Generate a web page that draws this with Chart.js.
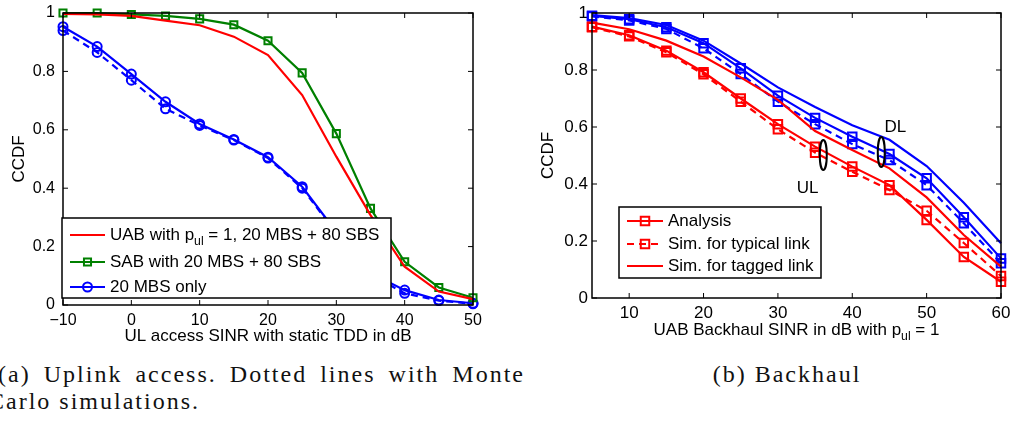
<!DOCTYPE html>
<html>
<head>
<meta charset="utf-8">
<script src="https://cdn.jsdelivr.net/npm/chart.js@4.4.1/dist/chart.umd.min.js"></script>
<style>
  body { margin: 0; background: #fff; width: 1011px; height: 421px; overflow: hidden; position: relative; }
  canvas { position: absolute; top: 0; }
  #chartA { left: 0; }
  #chartB { left: 520px; }
  .cap { position: absolute; font-family: 'Liberation Serif', 'DejaVu Serif', serif; font-size: 24px; letter-spacing: 2px; line-height: 27px; color: #111; white-space: nowrap; }
  #capA1 { left: -2px; top: 361px; width: 527px; text-align: justify; text-align-last: justify; white-space: normal; }
  #capA2 { left: -12px; top: 388px; }
  #capB { left: 687px; top: 361px; width: 200px; text-align: center; }
</style>
</head>
<body>
<canvas id="chartA" width="505" height="350"></canvas>
<canvas id="chartB" width="491" height="350"></canvas>
<div class="cap" id="capA1">(a) Uplink access. Dotted lines with Monte</div>
<div class="cap" id="capA2">Carlo simulations.</div>
<div class="cap" id="capB">(b) Backhaul</div>

<script>
// (a) uplink access
const sinrA = [-10, -5, 0, 5, 10, 15, 20, 25, 30, 35, 40, 45, 50];
const uabA = [0.997, 0.995, 0.99, 0.974, 0.958, 0.919, 0.856, 0.719, 0.508, 0.308, 0.131, 0.046, 0.02];
const sabA = [1.0, 1.0, 0.995, 0.99, 0.98, 0.96, 0.905, 0.795, 0.587, 0.331, 0.148, 0.06, 0.025];
const mbsA = [0.953, 0.885, 0.791, 0.696, 0.62, 0.567, 0.506, 0.405, 0.25, 0.11, 0.051, 0.017, 0.006];
const mbsSimA = [0.94, 0.865, 0.77, 0.672, 0.615, 0.565, 0.503, 0.4, 0.245, 0.105, 0.04, 0.015, 0.004];
const xTicksA = [-10, 0, 10, 20, 30, 40, 50];

// (b) backhaul
const sinrB = [5, 10, 15, 20, 25, 30, 35, 40, 45, 50, 55, 60];
const dlAnalysis = [0.99, 0.978, 0.95, 0.894, 0.806, 0.71, 0.632, 0.566, 0.505, 0.42, 0.283, 0.139];
const dlTypical = [0.988, 0.974, 0.944, 0.876, 0.786, 0.689, 0.61, 0.54, 0.484, 0.396, 0.262, 0.122];
const dlTagged = [0.993, 0.982, 0.958, 0.903, 0.823, 0.739, 0.67, 0.606, 0.555, 0.463, 0.334, 0.192];
const ulAnalysis = [0.952, 0.922, 0.868, 0.792, 0.7, 0.61, 0.531, 0.461, 0.396, 0.274, 0.144, 0.057];
const ulTypical = [0.95, 0.918, 0.862, 0.785, 0.689, 0.592, 0.51, 0.443, 0.379, 0.306, 0.193, 0.077];
const ulTagged = [0.966, 0.943, 0.903, 0.847, 0.774, 0.695, 0.586, 0.519, 0.455, 0.353, 0.221, 0.11];
const xTicksB = [10, 20, 30, 40, 50, 60];

const yTicks = [0, 0.2, 0.4, 0.6, 0.8, 1];

(function () {
    'use strict';

    const RED = '#ff0000', GREEN = '#008000', BLUE = '#0000ff';
    const SANS = "'Liberation Sans', Arial, sans-serif";
    const NONE = 'rgba(0,0,0,0)';

    function pts(xs, ys) {
        return xs.map(function (x, i) { return { x: x, y: ys[i] }; });
    }

    // text with a subscript part: parts = [[text, isSub], ...]
    function richWidth(ctx, parts, size) {
        let w = 0;
        parts.forEach(function (p) {
            ctx.font = (p[1] ? size * 0.72 : size) + 'px ' + SANS;
            w += ctx.measureText(p[0]).width;
        });
        return w;
    }
    function drawRich(ctx, parts, x, y, size, align) {
        if (align === 'center') x -= richWidth(ctx, parts, size) / 2;
        ctx.textBaseline = 'middle';
        ctx.textAlign = 'left';
        parts.forEach(function (p) {
            ctx.font = (p[1] ? size * 0.72 : size) + 'px ' + SANS;
            ctx.fillText(p[0], x, p[1] ? y + size * 0.38 : y);
            x += ctx.measureText(p[0]).width;
        });
    }

    function marker(ctx, style, x, y, r) {
        ctx.beginPath();
        if (style === 'rect') {
            const s = r * Math.SQRT1_2;
            ctx.rect(x - s, y - s, 2 * s, 2 * s);
        } else {
            ctx.arc(x, y, r, 0, Math.PI * 2);
        }
        ctx.stroke();
    }

    // MATLAB-like box, inward ticks, legend and notes
    const matlabFrame = {
        id: 'matlabFrame',
        afterDatasetsDraw: function (chart, args, opts) {
            const ctx = chart.ctx;
            const a = chart.chartArea;
            const xs = chart.scales.x, ys = chart.scales.y;
            ctx.save();
            ctx.strokeStyle = '#000';
            ctx.lineWidth = 1.5;
            ctx.strokeRect(a.left, a.top, a.right - a.left, a.bottom - a.top);
            ctx.lineWidth = 1;
            ctx.beginPath();
            xs.ticks.forEach(function (t) {
                const px = xs.getPixelForValue(t.value);
                ctx.moveTo(px, a.bottom); ctx.lineTo(px, a.bottom - opts.tick);
                ctx.moveTo(px, a.top); ctx.lineTo(px, a.top + opts.tick);
            });
            ys.ticks.forEach(function (t) {
                const py = ys.getPixelForValue(t.value);
                ctx.moveTo(a.left, py); ctx.lineTo(a.left + opts.tick, py);
                ctx.moveTo(a.right, py); ctx.lineTo(a.right - opts.tick, py);
            });
            ctx.stroke();

            // notes (ellipses + labels) in data coordinates
            (opts.notes || []).forEach(function (n) {
                const px = xs.getPixelForValue(n.x), py = ys.getPixelForValue(n.y);
                ctx.fillStyle = '#000';
                ctx.strokeStyle = '#000';
                if (n.text) {
                    ctx.font = opts.fontSize + 'px ' + SANS;
                    ctx.textAlign = 'center';
                    ctx.textBaseline = 'middle';
                    ctx.fillText(n.text, px, py);
                } else {
                    ctx.lineWidth = 2;
                    ctx.beginPath();
                    ctx.ellipse(px, py, 3.5, 15, 0, 0, Math.PI * 2);
                    ctx.stroke();
                }
            });

            // legend
            const L = opts.legend;
            ctx.fillStyle = '#fff';
            ctx.fillRect(L.x, L.y, L.w, L.h);
            ctx.strokeStyle = '#000';
            ctx.lineWidth = 1.5;
            ctx.strokeRect(L.x, L.y, L.w, L.h);
            L.items.forEach(function (it, i) {
                const y = L.rows[i];
                ctx.strokeStyle = it.color;
                ctx.lineWidth = 2.2;
                ctx.setLineDash(it.dash || []);
                ctx.beginPath();
                ctx.moveTo(L.x0, y); ctx.lineTo(L.x0 + L.len, y);
                ctx.stroke();
                ctx.setLineDash([]);
                ctx.lineWidth = 2;
                if (it.marker) marker(ctx, it.marker, L.x0 + L.len / 2, y, it.r);
                ctx.fillStyle = '#000';
                drawRich(ctx, it.text, L.x0 + L.len + 5, y, opts.fontSize, 'left');
            });

            // x title with subscript
            if (opts.xTitle) {
                ctx.fillStyle = '#000';
                drawRich(ctx, opts.xTitle, (a.left + a.right) / 2, opts.xTitleY, opts.fontSize, 'center');
            }
            ctx.restore();
        }
    };

    function axes(xMin, xMax, xTicks, fs, yPad, xPad, yW, xH, xTitle, yTitlePad) {
        return {
            x: {
                type: 'linear', min: xMin, max: xMax,
                afterFit: function (s) { s.height = xH; s.paddingLeft = 0; s.paddingRight = 0; },
                afterBuildTicks: function (s) { s.ticks = xTicks.map(function (v) { return { value: v }; }); },
                grid: { display: false, drawTicks: false, tickLength: 0 }, border: { display: false },
                ticks: {
                    color: '#000', padding: xPad, maxRotation: 0, autoSkip: false,
                    font: { family: SANS, size: fs },
                    callback: function (v) { return String(v).replace('-', '\u2212'); }
                },
                title: xTitle ? { display: true, text: xTitle, color: '#000', font: { family: SANS, size: 17 }, padding: { top: 0, bottom: 3 } } : { display: false }
            },
            y: {
                min: 0, max: 1,
                afterFit: function (s) { s.width = yW; s.paddingTop = 0; s.paddingBottom = 0; },
                afterBuildTicks: function (s) { s.ticks = yTicks.map(function (v) { return { value: v }; }); },
                grid: { display: false, drawTicks: false, tickLength: 0 }, border: { display: false },
                ticks: {
                    color: '#000', padding: yPad, font: { family: SANS, size: fs },
                    callback: function (v) { return String(v); }
                },
                title: { display: true, text: 'CCDF', color: '#000', font: { family: SANS, size: 17 }, padding: { top: yTitlePad, bottom: 0 } }
            }
        };
    }

    // ---- (a) Uplink access
    new Chart(document.getElementById('chartA'), {
        type: 'line',
        data: {
            datasets: [
                { label: 'UAB', data: pts(sinrA, uabA), borderColor: RED, borderWidth: 2.2, pointRadius: 0, clip: 8 },
                { label: 'SAB', data: pts(sinrA, sabA), borderColor: GREEN, borderWidth: 2.2, pointStyle: 'rect', pointRadius: 5, pointBorderWidth: 2, pointBorderColor: GREEN, pointBackgroundColor: NONE, clip: 8 },
                { label: 'MBS sim', data: pts(sinrA, mbsSimA), borderColor: BLUE, borderWidth: 2.2, borderDash: [7, 5], pointStyle: 'circle', pointRadius: 4.5, pointBorderWidth: 2, pointBorderColor: BLUE, pointBackgroundColor: NONE, clip: 8 },
                { label: 'MBS', data: pts(sinrA, mbsA), borderColor: BLUE, borderWidth: 2.2, pointStyle: 'circle', pointRadius: 4.5, pointBorderWidth: 2, pointBorderColor: BLUE, pointBackgroundColor: NONE, clip: 8 }
            ]
        },
        options: {
            responsive: false, animation: false,
            layout: { padding: { top: 13, right: 32, left: 0, bottom: 0 } },
            scales: axes(-10, 50, xTicksA, 16, 8, 6, 63, 45, 'UL access SINR with static TDD in dB', 9),
            plugins: {
                legend: { display: false }, tooltip: { enabled: false },
                matlabFrame: {
                    tick: 5, fontSize: 17,
                    legend: {
                        x: 62, y: 218, w: 329, h: 80, x0: 70, len: 35, rows: [235, 262, 287],
                        items: [
                            { color: RED, text: [['UAB with p', false], ['ul', true], [' = 1, 20 MBS + 80 SBS', false]] },
                            { color: GREEN, marker: 'rect', r: 5, text: [['SAB with 20 MBS + 80 SBS', false]] },
                            { color: BLUE, marker: 'circle', r: 4.5, text: [['20 MBS only', false]] }
                        ]
                    }
                }
            }
        },
        plugins: [matlabFrame]
    });

    // ---- (b) Backhaul
    function bSet(label, ys, color, dash, withMarker) {
        return {
            label: label, data: pts(sinrB, ys), borderColor: color, borderWidth: 2.2, borderDash: dash,
            pointStyle: 'rect', pointRadius: withMarker ? 6 : 0, pointBorderWidth: 2,
            pointBorderColor: color, pointBackgroundColor: NONE, clip: 8
        };
    }

    new Chart(document.getElementById('chartB'), {
        type: 'line',
        data: {
            datasets: [
                bSet('UL tagged', ulTagged, RED, [], false),
                bSet('UL typical', ulTypical, RED, [7, 5], true),
                bSet('UL analysis', ulAnalysis, RED, [], true),
                bSet('DL tagged', dlTagged, BLUE, [], false),
                bSet('DL typical', dlTypical, BLUE, [7, 5], true),
                bSet('DL analysis', dlAnalysis, BLUE, [], true)
            ]
        },
        options: {
            responsive: false, animation: false,
            layout: { padding: { top: 13, right: 10, left: 0, bottom: 0 } },
            scales: axes(5, 60, xTicksB, 17, 4, 5, 72, 52, null, 18),
            plugins: {
                legend: { display: false }, tooltip: { enabled: false },
                matlabFrame: {
                    tick: 5, fontSize: 17,
                    xTitle: [['UAB Backhaul SINR in dB with p', false], ['ul', true], [' = 1', false]],
                    xTitleY: 330,
                    notes: [
                        { x: 36.1, y: 0.502 }, { x: 43.9, y: 0.512 },
                        { x: 45.8, y: 0.6, text: 'DL' }, { x: 34, y: 0.386, text: 'UL' }
                    ],
                    legend: {
                        x: 99, y: 207, w: 202, h: 71, x0: 107, len: 36, rows: [221, 244, 266],
                        items: [
                            { color: RED, marker: 'rect', r: 6, text: [['Analysis', false]] },
                            { color: RED, marker: 'rect', r: 6, dash: [7, 5], text: [['Sim. for typical link', false]] },
                            { color: RED, text: [['Sim. for tagged link', false]] }
                        ]
                    }
                }
            }
        },
        plugins: [matlabFrame]
    });
})();
</script>
</body>
</html>
